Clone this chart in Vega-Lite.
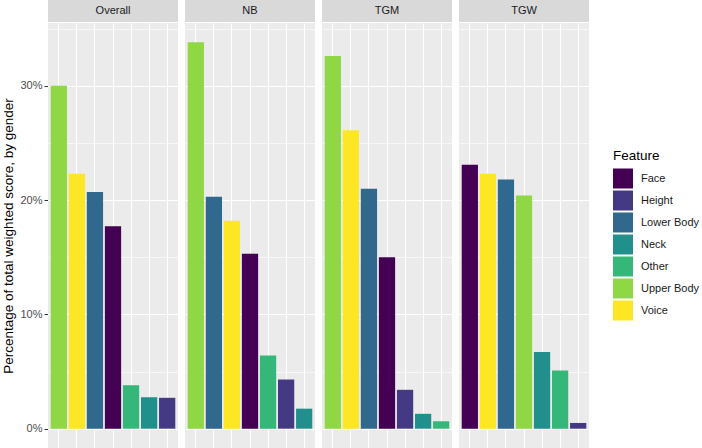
{
  "$schema": "https://vega.github.io/schema/vega-lite/v6.json",
  "padding": {"left": 1, "top": 0, "right": 0, "bottom": 0},
  "datasets": {
    "strips": [
      {"Panel": "Overall"}, {"Panel": "NB"}, {"Panel": "TGM"}, {"Panel": "TGW"}
    ],
    "scores": [
      {"Panel": "Overall", "Feature": "Upper Body", "Share": 30.0},
      {"Panel": "Overall", "Feature": "Voice", "Share": 22.3},
      {"Panel": "Overall", "Feature": "Lower Body", "Share": 20.7},
      {"Panel": "Overall", "Feature": "Face", "Share": 17.7},
      {"Panel": "Overall", "Feature": "Other", "Share": 3.8},
      {"Panel": "Overall", "Feature": "Neck", "Share": 2.75},
      {"Panel": "Overall", "Feature": "Height", "Share": 2.7},
      {"Panel": "NB", "Feature": "Upper Body", "Share": 33.8},
      {"Panel": "NB", "Feature": "Lower Body", "Share": 20.3},
      {"Panel": "NB", "Feature": "Voice", "Share": 18.2},
      {"Panel": "NB", "Feature": "Face", "Share": 15.3},
      {"Panel": "NB", "Feature": "Other", "Share": 6.4},
      {"Panel": "NB", "Feature": "Height", "Share": 4.3},
      {"Panel": "NB", "Feature": "Neck", "Share": 1.75},
      {"Panel": "TGM", "Feature": "Upper Body", "Share": 32.6},
      {"Panel": "TGM", "Feature": "Voice", "Share": 26.1},
      {"Panel": "TGM", "Feature": "Lower Body", "Share": 21.0},
      {"Panel": "TGM", "Feature": "Face", "Share": 15.0},
      {"Panel": "TGM", "Feature": "Height", "Share": 3.4},
      {"Panel": "TGM", "Feature": "Neck", "Share": 1.3},
      {"Panel": "TGM", "Feature": "Other", "Share": 0.65},
      {"Panel": "TGW", "Feature": "Face", "Share": 23.1},
      {"Panel": "TGW", "Feature": "Voice", "Share": 22.3},
      {"Panel": "TGW", "Feature": "Lower Body", "Share": 21.8},
      {"Panel": "TGW", "Feature": "Upper Body", "Share": 20.4},
      {"Panel": "TGW", "Feature": "Neck", "Share": 6.7},
      {"Panel": "TGW", "Feature": "Other", "Share": 5.1},
      {"Panel": "TGW", "Feature": "Height", "Share": 0.5}
    ]
  },
  "spacing": 1,
  "vconcat": [
    {
      "data": {"name": "strips"},
      "width": 541,
      "height": 22,
      "view": {"fill": null, "stroke": null},
      "encoding": {
        "x": {
          "field": "Panel",
          "type": "nominal",
          "sort": ["Overall", "NB", "TGM", "TGW"],
          "scale": {"paddingInner": 0.0511, "paddingOuter": 0},
          "axis": null
        }
      },
      "layer": [
        {"mark": {"type": "bar", "color": "#D9D9D9"}},
        {
          "mark": {"type": "text", "font": "Liberation Sans", "fontSize": 11, "color": "#1A1A1A"},
          "encoding": {"text": {"field": "Panel"}}
        }
      ]
    },
    {
      "data": {"name": "scores"},
      "spacing": 7,
      "facet": {
        "column": {
          "field": "Panel",
          "type": "nominal",
          "sort": ["Overall", "NB", "TGM", "TGW"],
          "header": {"title": null, "labels": false}
        }
      },
      "spec": {
        "width": 130,
        "height": 425,
        "mark": "bar",
        "encoding": {
          "x": {
            "field": "Feature",
            "type": "nominal",
            "sort": "-y",
            "scale": {"paddingInner": 0.1, "paddingOuter": 0.15},
            "axis": {
              "title": null,
              "labels": false,
              "ticks": false,
              "domain": false,
              "grid": true,
              "gridColor": "#FFFFFF",
              "gridWidth": 1.1
            }
          },
          "y": {
            "field": "Share",
            "type": "quantitative",
            "scale": {"domain": [-1.69, 35.49], "nice": false, "zero": false},
            "axis": {
              "title": "Percentage of total weighted score, by gender",
              "values": [0, 5, 10, 15, 20, 25, 30, 35],
              "labelExpr": "datum.value % 10 == 0 ? datum.value + '%' : ''",
              "domain": false,
              "grid": true,
              "gridColor": "#FFFFFF",
              "gridWidth": {"condition": {"test": "datum.value % 10 != 0", "value": 0.6}, "value": 1.2},
              "tickOpacity": {"condition": {"test": "datum.value % 10 != 0", "value": 0}, "value": 1},
              "tickColor": "#333333",
              "tickSize": 4,
              "labelColor": "#4D4D4D",
              "labelFontSize": 11,
              "labelPadding": 2,
              "titleFontSize": 13.5,
              "titleFontWeight": "normal",
              "titleColor": "#000000",
              "titlePadding": 4
            }
          },
          "color": {
            "field": "Feature",
            "type": "nominal",
            "scale": {
              "domain": ["Face", "Height", "Lower Body", "Neck", "Other", "Upper Body", "Voice"],
              "range": ["#440154", "#443A83", "#31688E", "#21908C", "#35B779", "#8FD744", "#FDE725"]
            },
            "legend": {
              "title": "Feature",
              "orient": "none",
              "legendX": 565,
              "legendY": 149,
              "symbolType": "square",
              "symbolSize": 400,
              "symbolStrokeWidth": 0,
              "symbolOpacity": 1,
              "rowPadding": 2,
              "labelFontSize": 11,
              "labelColor": "#1A1A1A",
              "labelOffset": 8,
              "titleFontSize": 13.5,
              "titleFontWeight": "normal",
              "titleColor": "#000000",
              "titlePadding": 6
            }
          }
        }
      },
      "resolve": {"scale": {"x": "independent"}}
    }
  ],
  "config": {
    "font": "Liberation Sans",
    "view": {"fill": "#EBEBEB", "stroke": null},
    "background": "#FFFFFF"
  }
}
